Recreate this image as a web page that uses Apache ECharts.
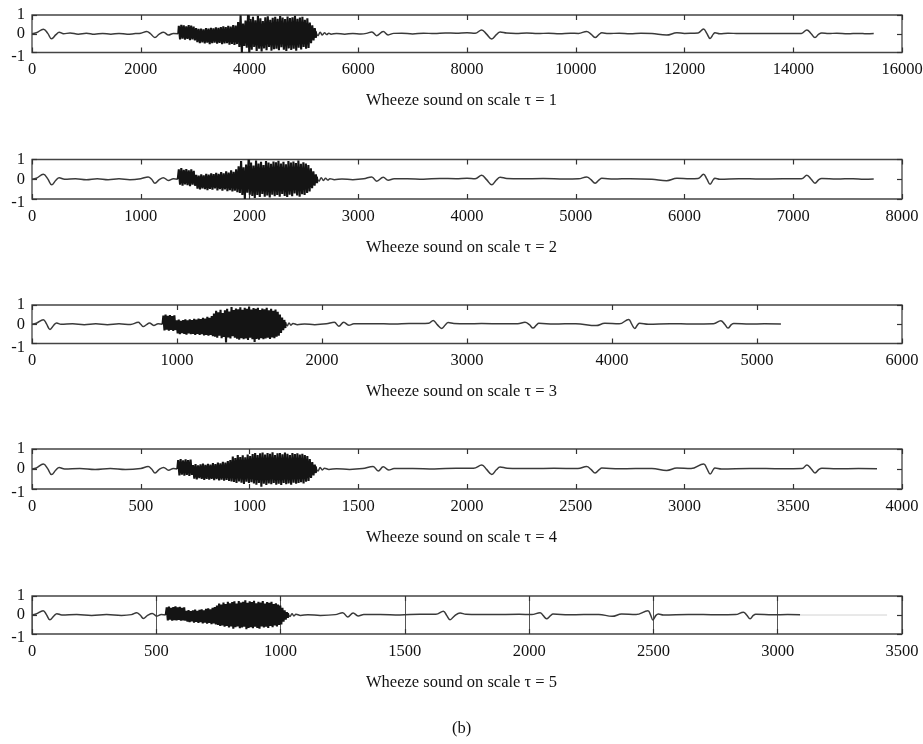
<!DOCTYPE html>
<html>
<head>
<meta charset="utf-8">
<script src="https://cdn.jsdelivr.net/npm/echarts@6/dist/echarts.min.js"></script>
<style>
  html, body { margin: 0; padding: 0; background: #fff; }
  #chart { width: 923px; height: 744px; }
</style>
</head>
<body>
<div id="chart"></div>
<script>
// Wheeze sound, coarse-grained on scales tau = 1..5.
// Each panel: a quiet lead-in, a dense wheeze burst (upper/lower swings), and a quiet tail.

const panelTitles = [
  'Wheeze sound on scale \u03c4 = 1',
  'Wheeze sound on scale \u03c4 = 2',
  'Wheeze sound on scale \u03c4 = 3',
  'Wheeze sound on scale \u03c4 = 4',
  'Wheeze sound on scale \u03c4 = 5'
];
const xMax = [16000, 8000, 6000, 4000, 3500];
const xStep = [2000, 1000, 1000, 500, 500];
const yTicks = [-1, 0, 1];

// ---- scale 1 ----
const lead1 = [[0,0],[80,0.05],[210,0.24],[290,0.02],[360,-0.27],[440,-0.05],[500,0.08],[580,0],[700,0.04],[850,-0.02],[1000,0.03],[1150,-0.03],[1300,0.02],[1450,-0.02],[1600,0.02],[1750,-0.03],[1900,0.01],[2000,0.03],[2110,0.12],[2180,0],[2260,-0.2],[2340,-0.02],[2420,0.08],[2510,-0.07],[2600,0.02],[2690,0]];
const span1 = [2700, 5200];
const hi1 = [0.42,0.48,0.45,0.4,0.46,0.43,0.38,0.3,0.26,0.28,0.24,0.3,0.27,0.32,0.29,0.34,0.31,0.36,0.4,0.35,0.42,0.38,0.46,0.44,0.62,0.98,0.55,0.7,1.0,0.78,0.9,0.72,0.96,0.82,0.68,0.88,0.93,0.75,0.85,0.9,0.8,0.95,0.86,0.78,0.92,0.84,0.88,0.96,0.8,0.86,0.9,0.74,0.82,0.6,0.45,0.3];
const lo1 = [-0.3,-0.26,-0.32,-0.28,-0.34,-0.3,-0.36,-0.45,-0.5,-0.46,-0.52,-0.48,-0.55,-0.5,-0.47,-0.53,-0.49,-0.56,-0.52,-0.5,-0.58,-0.54,-0.6,-0.55,-0.7,-1.0,-0.65,-0.75,-0.98,-0.85,-0.7,-0.92,-0.8,-0.95,-0.78,-0.88,-0.7,-0.9,-0.82,-0.8,-0.88,-0.72,-0.85,-0.92,-0.78,-0.86,-0.8,-0.9,-0.75,-0.84,-0.7,-0.8,-0.76,-0.5,-0.35,-0.22];
const trail1 = [[5220,0.12],[5260,-0.1],[5300,0.08],[5340,-0.07],[5380,0.05],[5420,-0.04],[5460,0.03],[5500,-0.02],[5600,0.01],[5750,-0.02],[5900,0.02],[6050,-0.01],[6150,0.02],[6250,0.1],[6340,-0.1],[6460,0.12],[6550,-0.06],[6650,0.02],[6800,0.03],[7000,-0.01],[7200,0.03],[7400,0.01],[7600,0.04],[7800,0.03],[8000,0.05],[8150,0.03],[8270,0.2],[8360,-0.02],[8455,-0.28],[8540,-0.05],[8610,0.1],[8730,0.04],[8900,0.02],[9100,0.04],[9300,0.01],[9500,0.03],[9700,0],[9900,0.03],[10050,0.02],[10200,0.12],[10280,-0.02],[10355,-0.2],[10430,-0.03],[10480,0.05],[10600,0.01],[10800,0.03],[11000,0],[11200,0.03],[11400,0.01],[11670,-0.07],[11860,0.05],[12000,0.02],[12150,0.03],[12250,0.04],[12350,0.25],[12410,0.02],[12470,-0.25],[12530,-0.02],[12560,0.05],[12650,0],[12800,0.03],[13000,0.01],[13200,0.02],[13400,0.01],[13600,0.02],[13800,0.01],[14000,0.02],[14150,0.02],[14250,0.2],[14330,0],[14400,-0.2],[14470,-0.02],[14525,0.04],[14650,0.01],[14800,0.03],[15000,0],[15200,0.02],[15350,0],[15480,0.01]];

// ---- scale 2 ----
const lead2 = [[0,0],[40,0.05],[104,0.25],[145,0.02],[181,-0.28],[220,-0.05],[250,0.07],[300,0],[400,0.03],[500,-0.02],[600,0.03],[700,-0.02],[800,0.02],[900,-0.02],[1000,0.03],[1068,0.12],[1100,0],[1131,-0.2],[1170,-0.02],[1207,0.08],[1255,-0.06],[1300,0.02],[1340,0]];
const span2 = [1350, 2610];
const hi2 = [0.5,0.56,0.48,0.52,0.45,0.5,0.42,0.22,0.18,0.25,0.2,0.27,0.23,0.3,0.26,0.33,0.28,0.36,0.3,0.4,0.34,0.45,0.38,0.5,0.65,0.92,0.6,0.75,1.0,0.85,0.7,0.95,0.8,0.88,0.72,0.92,0.84,0.78,0.9,0.86,0.94,0.8,0.88,0.76,0.92,0.85,0.9,0.82,0.95,0.78,0.86,0.8,0.72,0.55,0.4,0.25];
const lo2 = [-0.28,-0.32,-0.26,-0.3,-0.35,-0.28,-0.33,-0.48,-0.52,-0.46,-0.5,-0.55,-0.49,-0.53,-0.47,-0.56,-0.5,-0.58,-0.52,-0.6,-0.55,-0.62,-0.58,-0.65,-0.7,-0.8,-1.0,-0.68,-0.78,-0.85,-0.95,-0.8,-0.9,-0.75,-0.88,-0.82,-0.92,-0.78,-0.86,-0.8,-0.88,-0.75,-0.84,-0.9,-0.78,-0.86,-0.72,-0.82,-0.88,-0.76,-0.8,-0.7,-0.62,-0.45,-0.32,-0.2];
const trail2 = [[2620,0.12],[2640,-0.1],[2660,0.08],[2680,-0.06],[2700,0.05],[2720,-0.04],[2740,0.03],[2780,-0.02],[2850,0.01],[2950,-0.02],[3050,0.02],[3124,0.12],[3170,-0.1],[3230,0.1],[3275,-0.05],[3330,0.02],[3450,0.03],[3600,0],[3750,0.04],[3900,0.03],[4000,0.05],[4075,0.03],[4135,0.2],[4180,-0.02],[4228,-0.28],[4270,-0.04],[4305,0.1],[4365,0.04],[4500,0.02],[4700,0.04],[4900,0.01],[5025,0.02],[5100,0.12],[5140,-0.02],[5178,-0.2],[5215,-0.03],[5240,0.05],[5350,0.01],[5500,0.03],[5700,0],[5835,-0.07],[5930,0.05],[6050,0.02],[6125,0.04],[6175,0.25],[6205,0.02],[6235,-0.25],[6265,-0.02],[6280,0.05],[6325,0],[6500,0.03],[6700,0.01],[6900,0.02],[7075,0.02],[7125,0.2],[7165,0],[7200,-0.2],[7235,-0.02],[7262,0.04],[7400,0.01],[7550,0.03],[7650,0],[7740,0.01]];

// ---- scale 3 ----
const lead3 = [[0,0],[30,0.05],[78,0.24],[100,0.02],[124,-0.27],[150,-0.05],[170,0.07],[200,0],[280,0.03],[360,-0.02],[440,0.03],[520,-0.02],[600,0.02],[680,-0.01],[733,0.1],[750,0],[767,-0.12],[790,-0.02],[810,0.07],[840,-0.06],[870,0.02],[900,0]];
const span3 = [906, 1740];
const hi3 = [0.45,0.5,0.44,0.48,0.42,0.46,0.2,0.24,0.18,0.22,0.26,0.2,0.25,0.22,0.28,0.24,0.3,0.27,0.34,0.3,0.38,0.34,0.42,0.55,0.7,0.62,0.75,0.58,0.72,0.8,0.66,0.9,0.74,0.82,0.78,0.88,0.75,0.85,0.8,0.92,0.76,0.84,0.8,0.86,0.74,0.82,0.78,0.85,0.72,0.8,0.7,0.76,0.65,0.5,0.35,0.22];
const lo3 = [-0.32,-0.28,-0.34,-0.3,-0.35,-0.3,-0.48,-0.52,-0.46,-0.5,-0.54,-0.48,-0.52,-0.5,-0.55,-0.5,-0.56,-0.52,-0.58,-0.55,-0.6,-0.56,-0.62,-0.65,-0.7,-0.6,-0.72,-0.66,-0.95,-0.68,-0.74,-0.62,-0.7,-0.75,-0.8,-0.72,-0.78,-0.74,-0.82,-0.7,-0.78,-0.92,-0.76,-0.8,-0.72,-0.78,-0.74,-0.7,-0.76,-0.68,-0.72,-0.65,-0.6,-0.45,-0.3,-0.2];
const trail3 = [[1747,0.1],[1760,-0.08],[1773,0.07],[1786,-0.05],[1800,0.04],[1830,-0.02],[1880,0.01],[1950,-0.02],[2030,0.02],[2085,0.1],[2116,-0.1],[2150,0.11],[2185,-0.05],[2220,0.02],[2350,0.03],[2500,0.01],[2600,0.04],[2680,0.04],[2735,0.05],[2767,0.2],[2795,-0.02],[2826,-0.22],[2850,-0.04],[2870,0.09],[2910,0.04],[3000,0.02],[3100,0.04],[3250,0.02],[3350,0.02],[3400,0.1],[3430,-0.02],[3455,-0.2],[3480,-0.03],[3495,0.05],[3600,0.01],[3750,0.03],[3890,-0.07],[3950,0.05],[4050,0.02],[4115,0.25],[4135,0.02],[4157,-0.22],[4177,-0.02],[4190,0.05],[4250,0],[4400,0.03],[4550,0.01],[4700,0.02],[4750,0.18],[4777,0],[4800,-0.2],[4823,-0.02],[4840,0.04],[4950,0.01],[5050,0.02],[5165,0.01]];

// ---- scale 4 ----
const lead4 = [[0,0],[20,0.05],[52,0.25],[72,0.02],[90,-0.28],[110,-0.05],[125,0.07],[150,0],[220,0.03],[290,-0.02],[360,0.03],[430,-0.02],[500,0.03],[534,0.12],[550,0],[566,-0.2],[585,-0.02],[605,0.08],[628,-0.06],[650,0.02],[668,0]];
const span4 = [672, 1300];
const hi4 = [0.45,0.5,0.43,0.48,0.44,0.47,0.2,0.24,0.18,0.23,0.27,0.21,0.26,0.22,0.29,0.25,0.32,0.28,0.36,0.32,0.4,0.45,0.62,0.55,0.7,0.6,0.68,0.58,0.72,0.65,0.75,0.8,0.7,0.78,0.82,0.72,0.8,0.76,0.84,0.7,0.78,0.8,0.74,0.82,0.76,0.7,0.8,0.75,0.78,0.72,0.76,0.7,0.65,0.5,0.35,0.22];
const lo4 = [-0.32,-0.28,-0.33,-0.3,-0.35,-0.29,-0.48,-0.52,-0.46,-0.5,-0.54,-0.49,-0.53,-0.5,-0.56,-0.51,-0.57,-0.53,-0.58,-0.55,-0.6,-0.62,-0.65,-0.7,-0.62,-0.68,-0.75,-0.64,-0.7,-0.66,-0.72,-0.78,-0.7,-0.88,-0.74,-0.8,-0.72,-0.76,-0.7,-0.78,-0.74,-0.8,-0.7,-0.76,-0.72,-0.78,-0.68,-0.74,-0.7,-0.66,-0.72,-0.64,-0.6,-0.45,-0.32,-0.2];
const trail4 = [[1305,0.12],[1315,-0.1],[1325,0.07],[1335,-0.05],[1345,0.04],[1365,-0.02],[1400,0.01],[1460,-0.02],[1520,0.02],[1568,0.12],[1592,-0.1],[1615,0.11],[1640,-0.05],[1665,0.02],[1750,0.03],[1850,0],[1950,0.04],[2030,0.04],[2068,0.2],[2090,-0.02],[2114,-0.27],[2135,-0.04],[2152,0.1],[2185,0.04],[2300,0.02],[2400,0.04],[2510,0.02],[2550,0.12],[2570,-0.02],[2589,-0.2],[2608,-0.03],[2620,0.05],[2700,0.01],[2850,0.03],[2918,-0.07],[2965,0.05],[3030,0.02],[3088,0.25],[3103,0.02],[3118,-0.25],[3133,-0.02],[3140,0.05],[3170,0],[3300,0.03],[3450,0.01],[3540,0.02],[3563,0.2],[3583,0],[3600,-0.2],[3618,-0.02],[3632,0.04],[3700,0.01],[3800,0.02],[3885,0.01]];

// ---- scale 5 ----
const lead5 = [[0,0],[16,0.05],[45,0.23],[58,0.02],[72,-0.25],[88,-0.05],[100,0.07],[120,0],[180,0.03],[240,-0.02],[300,0.03],[360,-0.02],[400,0.02],[421,0.12],[435,0],[448,-0.18],[465,-0.02],[484,0.08],[502,-0.06],[520,0.02],[538,0]];
const span5 = [542, 1025];
const hi5 = [0.4,0.44,0.38,0.42,0.45,0.4,0.43,0.38,0.4,0.22,0.26,0.2,0.25,0.28,0.22,0.27,0.3,0.25,0.32,0.35,0.3,0.38,0.42,0.5,0.6,0.55,0.65,0.58,0.7,0.62,0.68,0.72,0.6,0.74,0.66,0.7,0.78,0.64,0.72,0.68,0.75,0.62,0.7,0.66,0.73,0.6,0.68,0.64,0.7,0.58,0.62,0.55,0.5,0.38,0.25,0.15];
const lo5 = [-0.28,-0.25,-0.3,-0.27,-0.29,-0.26,-0.3,-0.28,-0.3,-0.35,-0.38,-0.34,-0.4,-0.36,-0.42,-0.38,-0.44,-0.4,-0.46,-0.42,-0.48,-0.45,-0.5,-0.52,-0.58,-0.55,-0.62,-0.58,-0.66,-0.6,-0.72,-0.64,-0.6,-0.7,-0.66,-0.62,-0.75,-0.68,-0.64,-0.7,-0.62,-0.68,-0.72,-0.6,-0.66,-0.62,-0.68,-0.58,-0.64,-0.55,-0.6,-0.52,-0.5,-0.35,-0.24,-0.15];
const trail5 = [[1030,0.1],[1038,-0.08],[1046,0.07],[1054,-0.05],[1062,0.04],[1080,-0.02],[1110,0.01],[1160,-0.02],[1220,0.02],[1250,0.12],[1270,-0.1],[1292,0.11],[1312,-0.05],[1335,0.02],[1400,0.03],[1480,0],[1560,0.04],[1625,0.04],[1655,0.2],[1668,-0.02],[1682,-0.25],[1700,-0.04],[1722,0.1],[1746,0.04],[1850,0.02],[1960,0.04],[2010,0.02],[2044,0.12],[2056,-0.02],[2070,-0.2],[2086,-0.03],[2096,0.05],[2160,0.01],[2280,0.03],[2334,-0.07],[2372,0.05],[2430,0.02],[2478,0.22],[2488,0.02],[2498,-0.26],[2510,-0.02],[2520,0.05],[2540,0],[2640,0.03],[2760,0.01],[2830,0.02],[2862,0.15],[2875,0],[2889,-0.2],[2902,-0.02],[2912,0.04],[2980,0.01],[3040,0.02],[3090,0.01]];
// zero padding after the last sample of scale 5
const pad5 = [[3090,0],[3440,0]];

const leads = [lead1, lead2, lead3, lead4, lead5];
const spans = [span1, span2, span3, span4, span5];
const his = [hi1, hi2, hi3, hi4, hi5];
const los = [lo1, lo2, lo3, lo4, lo5];
const trails = [trail1, trail2, trail3, trail4, trail5];

// Burst: each upper swing is followed by its lower swing, evenly spread across the span.
function burstPoints(span, hi, lo) {
  const n = hi.length;
  const step = (span[1] - span[0]) / (n - 1);
  const pts = [];
  for (let i = 0; i < n; i++) {
    const x = span[0] + i * step;
    pts.push([x, hi[i]]);
    pts.push([x + step / 2, lo[i]]);
  }
  return pts;
}

const FONT = "'Liberation Serif', 'DejaVu Serif', serif";
const gridTop = [15, 159.5, 305, 449, 596];
const gridHeight = [37.5, 39.5, 38.5, 40, 38];
const LEFT = 32, RIGHT = 21;
const TRACE = '#3a3a3a';

const grids = [], xAxes = [], yAxes = [], series = [], graphics = [];
for (let p = 0; p < 5; p++) {
  grids.push({
    left: LEFT, right: RIGHT, top: gridTop[p], height: gridHeight[p],
    outerBoundsMode: 'none', containLabel: false,
    show: true, borderColor: '#444', borderWidth: 1.3, backgroundColor: 'transparent'
  });
  const tick = { show: true, inside: true, length: 5, lineStyle: { color: '#333', width: 1.2 } };
  const common = {
    type: 'value', gridIndex: p, min: 0, max: xMax[p], interval: xStep[p],
    axisLine: { show: false, onZero: false },
    axisTick: tick,
    splitLine: { show: p === 4, lineStyle: { color: '#555', width: 1 } }
  };
  xAxes.push(Object.assign({}, common, {
    position: 'bottom',
    axisLabel: { show: true, fontFamily: FONT, fontSize: 16.5, color: '#111', margin: 9,
                 formatter: v => String(v), showMinLabel: true, showMaxLabel: true, hideOverlap: false }
  }));
  xAxes.push(Object.assign({}, common, {
    position: 'top', axisLabel: { show: false }, splitLine: { show: false }
  }));
  const yCommon = {
    type: 'value', gridIndex: p, min: yTicks[0], max: yTicks[2], interval: 1,
    axisLine: { show: false, onZero: false }, splitLine: { show: false },
    axisTick: tick
  };
  yAxes.push(Object.assign({}, yCommon, {
    position: 'left',
    axisLabel: {
      show: true, fontFamily: FONT, fontSize: 16.5, color: '#111', margin: 7,
      formatter: v => (v === -1 ? '{lo|-1}' : String(v)),
      rich: { lo: { fontFamily: FONT, fontSize: 16.5, color: '#111', padding: [8, 0, 0, 0] } }
    }
  }));
  yAxes.push(Object.assign({}, yCommon, { position: 'right', axisLabel: { show: false } }));

  const lead = leads[p], trail = trails[p];
  const burst = burstPoints(spans[p], his[p], los[p]);
  const base = { type: 'line', xAxisIndex: 2 * p, yAxisIndex: 2 * p, showSymbol: false,
                 symbol: 'none', silent: true, animation: false };
  // quiet stretches: thin grey trace, gently smoothed
  series.push(Object.assign({}, base, {
    data: lead, smooth: 0.4, lineStyle: { color: TRACE, width: 1.5 }
  }));
  series.push(Object.assign({}, base, {
    data: trail, smooth: 0.4, lineStyle: { color: TRACE, width: 1.5 }
  }));
  // wheeze burst: dense, dark swings joined to both quiet stretches
  series.push(Object.assign({}, base, {
    data: [lead[lead.length - 1]].concat(burst, [trail[0]]),
    lineStyle: { color: '#141414', width: 2.1 }
  }));

  graphics.push({
    type: 'text', left: 'center', top: gridTop[p] + gridHeight[p] + 40,
    style: { text: panelTitles[p], font: "16.5px " + FONT, fill: '#111' }
  });
}
series.push({
  type: 'line', xAxisIndex: 8, yAxisIndex: 8, data: pad5,
  showSymbol: false, symbol: 'none', silent: true, animation: false,
  lineStyle: { color: '#d2d2d2', width: 1 }
});
graphics.push({
  type: 'text', left: 'center', top: 720,
  style: { text: '(b)', font: "16.5px " + FONT, fill: '#111' }
});

const chart = echarts.init(document.getElementById('chart'), null, { renderer: 'canvas' });
chart.setOption({
  backgroundColor: '#ffffff',
  animation: false,
  grid: grids,
  xAxis: xAxes,
  yAxis: yAxes,
  series: series,
  graphic: graphics
});
</script>
</body>
</html>
